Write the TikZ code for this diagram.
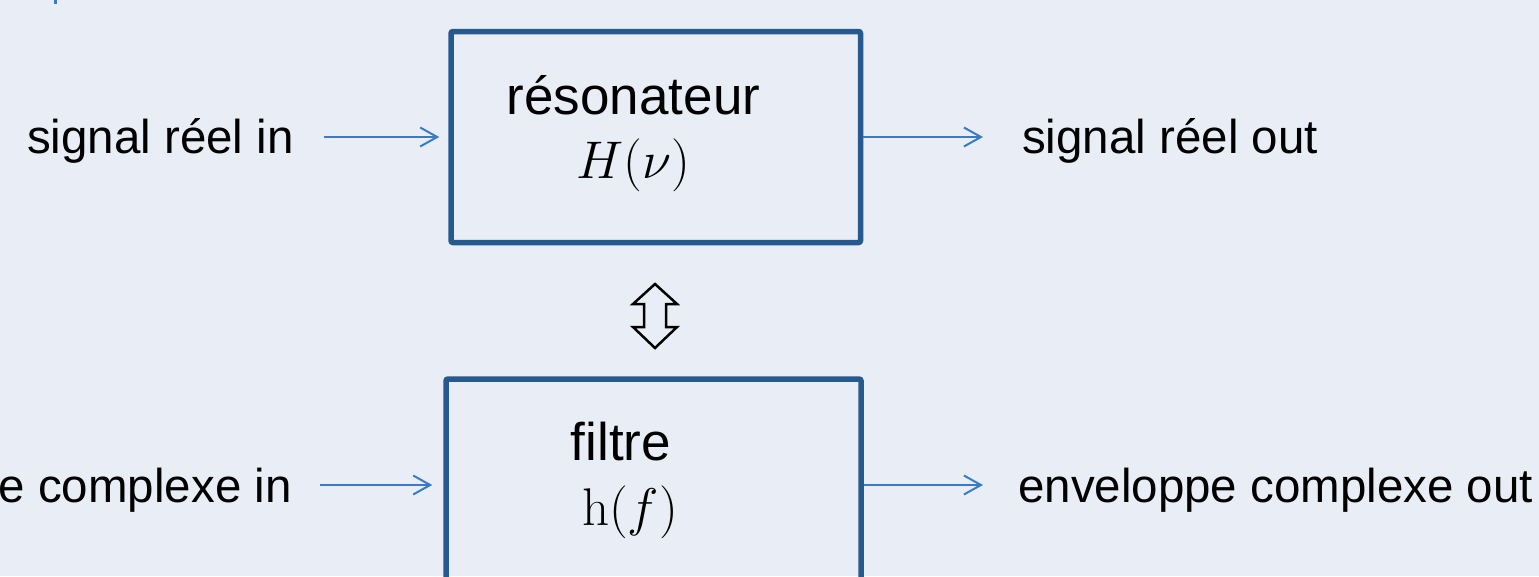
\RequirePackage{fix-cm}
\documentclass[tikz,border=0pt]{standalone}
\usepackage[no-math]{fontspec}
\setmainfont{Liberation Sans}
\usetikzlibrary{arrows.meta}
\definecolor{bgblue}{RGB}{233,238,246}
\definecolor{boxblue}{RGB}{38,90,143}
\definecolor{sigblue}{RGB}{59,122,196}

\begin{document}
\begin{tikzpicture}[x=1pt,y=-1pt,
	block/.style={draw=boxblue,line width=5.5pt,rounded corners=2pt,minimum width=#1,inner sep=0pt},
	label/.style={font=\fontsize{47.5}{57}\selectfont,inner sep=0pt},
	inbox/.style={font=\fontsize{53}{62}\selectfont,inner sep=0pt,anchor=base},
	sig/.style={draw=sigblue,line width=2pt,-{Straight Barb[length=17pt,width=19pt]}},
	eqv/.style={draw=black,line width=2.5pt,line join=miter}]
\useasboundingbox (0,0) rectangle (1539,576);
\fill[bgblue] (0,0) rectangle (1539,576);
\clip (0,0) rectangle (1539,576);
\draw[sigblue,line width=2.5pt] (55.5,0) -- (55.5,4);
\node [block=409.5pt,minimum height=211pt] (reson) at (655.75,137) {};
\node [block=415pt,minimum height=212pt] (filt) at (653.5,485) {};
\node [inbox] (resT) at (633.5,114) {résonateur};
\node [inbox] (resH) at (633,178) {$H(\nu)$};
\node [inbox] (filT) at (621,460) {filtre};
\node [inbox] (filH) at (630,525) {$\mathrm{h}(f)$};
\node [label,anchor=base east] (sigIn) at (294,153) {signal réel in};
\node [label,anchor=base west] (sigOut) at (1022,153) {signal réel out};
\node [label,anchor=base east] (envIn) at (292,502) {enveloppe complexe in};
\node [label,anchor=base west] (envOut) at (1018,502) {enveloppe complexe out};
\coordinate (sigInEnd) at (324,137);
\coordinate (sigOutEnd) at (983,137);
\coordinate (envInEnd) at (320,485);
\coordinate (envOutEnd) at (983,485);
\draw [sig] (sigInEnd) -- ([xshift=-9pt]reson.west);
\draw [sig] (reson.east) -- (sigOutEnd);
\draw [sig] (envInEnd) -- ([xshift=-11pt]filt.west);
\draw [sig] (filt.east) -- (envOutEnd);
\coordinate (eq) at (655,316);
\draw [eqv] (eq) ++(0,-32) -- ++(22,20) -- ++(-11,0) -- ++(0,23) -- ++(11,0)
	-- ++(-22,21) -- ++(-22,-21) -- ++(11,0) -- ++(0,-23) -- ++(-11,0) -- cycle;
\end{tikzpicture}
\end{document}
